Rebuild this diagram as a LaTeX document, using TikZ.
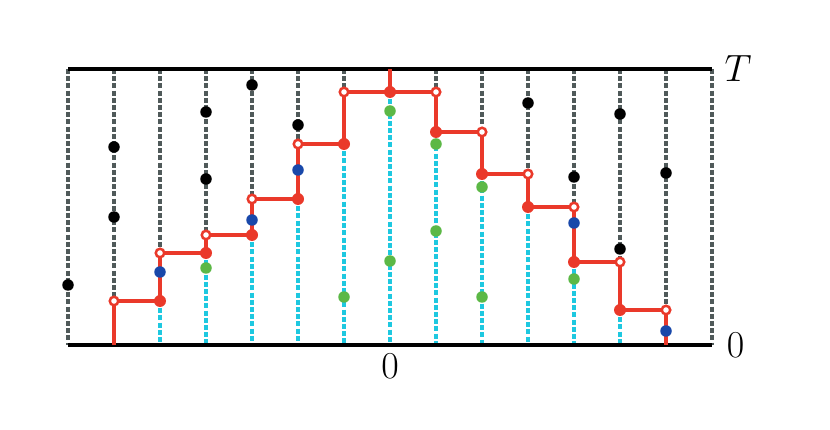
\RequirePackage{fix-cm}
\documentclass[tikz,border=0pt]{standalone}
\begin{document}
\begin{tikzpicture}[x=1pt,y=-1pt,
  graydash/.style={draw=graycol,line width=3.3pt,dash pattern=on 5pt off 2.2pt},
  cyandash/.style={draw=cyancol,line width=3.3pt,dash pattern=on 5pt off 2.2pt},
  redline/.style={draw=redcol,line width=3.5pt,line join=miter},
  axis/.style={draw=black,line width=3.5pt},
  bdot/.style={circle,fill=black,inner sep=0pt,minimum size=11.5pt},
  bluedot/.style={circle,fill=bluecol,inner sep=0pt,minimum size=11.5pt},
  greendot/.style={circle,fill=greencol,inner sep=0pt,minimum size=11.5pt},
  rfill/.style={circle,fill=redcol,inner sep=0pt,minimum size=12pt},
  ropen/.style={circle,draw=redcol,fill=white,line width=2.5pt,inner sep=0pt,minimum size=8.5pt},
  lbl/.style={font=\fontsize{38}{40}\selectfont,inner sep=0pt}
]
\definecolor{graycol}{RGB}{80,90,90}
\definecolor{cyancol}{RGB}{30,200,224}
\definecolor{redcol}{RGB}{234,57,42}
\definecolor{bluecol}{RGB}{25,72,170}
\definecolor{greencol}{RGB}{92,184,70}
\useasboundingbox (0,0) rectangle (830,430);

% coordinates of the vertical lines: top and bottom
\foreach \k in {0,...,14}{
  \coordinate (t\k) at ({68+46*\k},69);
  \coordinate (b\k) at ({68+46*\k},345);
}
% step path points: open (o) and filled (f)
\coordinate (f1) at (114,345);
\coordinate (o1) at (114,301);
\coordinate (f2) at (160,301); \coordinate (o2) at (160,253);
\coordinate (f3) at (206,253); \coordinate (o3) at (206,235);
\coordinate (f4) at (252,235); \coordinate (o4) at (252,199);
\coordinate (f5) at (298,199); \coordinate (o5) at (298,144);
\coordinate (f6) at (344,144); \coordinate (o6) at (344,92);
\coordinate (f7) at (390,92);
\coordinate (o8) at (436,92);  \coordinate (f8) at (436,132);
\coordinate (o9) at (482,132); \coordinate (f9) at (482,174);
\coordinate (o10) at (528,174); \coordinate (f10) at (528,207);
\coordinate (o11) at (574,207); \coordinate (f11) at (574,262);
\coordinate (o12) at (620,262); \coordinate (f12) at (620,310);
\coordinate (o13) at (666,310); \coordinate (f13) at (666,345);

% gray dashed parts
\draw[graydash] (t0) -- (b0);
\draw[graydash] (t14) -- (b14);
\draw[graydash] (t1) -- (o1);
\foreach \k in {2,3,4,5,6,8,9,10,11,12,13}{
  \draw[graydash] (t\k) -- (o\k);
}
% cyan dashed parts
\foreach \k in {2,3,4,5,6,7,8,9,10,11,12}{
  \draw[cyandash] (f\k) -- (b\k);
}

% axes
\draw[axis] (t0) -- (t14);
\draw[axis] (b0) -- (b14);

% red step path
\draw[redline] (f1) -- (o1) -- (f2) -- (o2) -- (f3) -- (o3) -- (f4) -- (o4)
  -- (f5) -- (o5) -- (f6) -- (o6) -- (f7) -- (o8) -- (f8) -- (o9) -- (f9)
  -- (o10) -- (f10) -- (o11) -- (f11) -- (o12) -- (f12) -- (o13) -- (f13);
\draw[redline] (f7) -- (t7);

% black dots
\node[bdot] (k0a) at (68,285) {};
\node[bdot] (k1a) at (114,147) {};
\node[bdot] (k1b) at (114,217) {};
\node[bdot] (k3a) at (206,112) {};
\node[bdot] (k3b) at (206,179) {};
\node[bdot] (k4a) at (252,85) {};
\node[bdot] (k5a) at (298,125) {};
\node[bdot] (k10a) at (528,103) {};
\node[bdot] (k11a) at (574,177) {};
\node[bdot] (k12a) at (620,114) {};
\node[bdot] (k12b) at (620,249) {};
\node[bdot] (k13a) at (666,173) {};

% blue dots
\node[bluedot] (u2) at (160,272) {};
\node[bluedot] (u4) at (252,220) {};
\node[bluedot] (u5) at (298,170) {};
\node[bluedot] (u11) at (574,223) {};
\node[bluedot] (u13) at (666,331) {};

% green dots
\node[greendot] (g3) at (206,268) {};
\node[greendot] (g6) at (344,297) {};
\node[greendot] (g7a) at (390,111) {};
\node[greendot] (g7b) at (390,261) {};
\node[greendot] (g8a) at (436,144) {};
\node[greendot] (g8b) at (436,231) {};
\node[greendot] (g9a) at (482,187) {};
\node[greendot] (g9b) at (482,297) {};
\node[greendot] (g11) at (574,279) {};

% filled red dots
\foreach \k in {2,...,12}{
  \node[rfill] (F\k) at (f\k) {};
}
% open red dots
\foreach \k in {1,2,3,4,5,6,8,9,10,11,12,13}{
  \node[ropen] (O\k) at (o\k) {};
}

% labels
\node[lbl] (lT) at (738,69) {$T$};
\node[lbl] (l0r) at (735.5,345) {$0$};
\node[lbl] (l0b) at (390,366) {$0$};
\end{tikzpicture}
\end{document}
